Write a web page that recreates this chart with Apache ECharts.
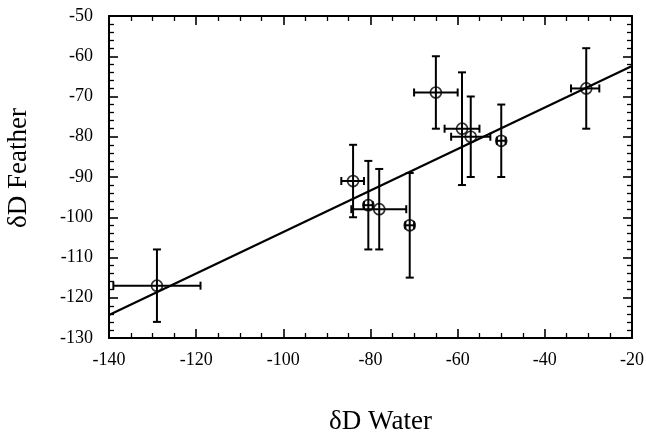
<!DOCTYPE html>
<html><head><meta charset="utf-8">
<script src="https://cdn.jsdelivr.net/npm/echarts@6/dist/echarts.min.js"></script>
<style>html,body{margin:0;padding:0;background:#fff}#c{width:646px;height:436px}</style>
</head><body><div id="c"></div>
<script>
// δD Water (x) and δD Feather (y) for each sample
const waterD   = [-129, -84, -80.5, -78, -71, -65, -59, -57, -50, -30.5];
const featherD = [-117, -91, -97, -98, -102, -69, -78, -80, -81, -68];
// horizontal error bar ends (water)
const waterLow  = [-139, -86.7, -81.5, -84.4, -72, -70, -63, -61.5, -51, -34];
const waterHigh = [-119, -81.5, -79.5, -71.8, -70, -60, -55, -52.5, -49, -27.5];
// vertical error bar ends (feather)
const featherLow  = [-126, -100, -108, -108, -115, -78, -92, -90, -90, -78];
const featherHigh = [-108, -82, -86, -88, -89, -60, -64, -70, -72, -58];
// regression line end points
const fitX = [-140, -20];
const fitY = [-124.3, -62.4];

const errData = waterD.map((x, i) => [x, featherD[i], waterLow[i], waterHigh[i], featherLow[i], featherHigh[i]]);
const ptData = waterD.map((x, i) => [x, featherD[i]]);
const fitData = fitX.map((x, i) => [x, fitY[i]]);

const FONT = 'Liberation Serif';
const axisCommon = {
  axisLine: {show: true, lineStyle: {color: '#000', width: 2}},
  axisTick: {show: true, inside: true, length: 9, lineStyle: {color: '#000', width: 1.6}},
  minorTick: {show: true, length: 5, lineStyle: {color: '#000', width: 1.3}},
  splitLine: {show: false}
};

const chart = echarts.init(document.getElementById('c'), null, {renderer: 'canvas'});
chart.setOption({
  animation: false,
  backgroundColor: '#fff',
  grid: {left: 109, right: 14, top: 16, bottom: 98, containLabel: false, outerBoundsMode: 'none'},
  xAxis: [
    Object.assign({}, axisCommon, {
      type: 'value', min: -140, max: -20, interval: 20, position: 'bottom',
      minorTick: Object.assign({}, axisCommon.minorTick, {splitNumber: 4}),
      axisLabel: {color: '#000', fontFamily: FONT, fontSize: 18, margin: 13},
      name: 'δD Water', nameLocation: 'middle', nameGap: 70,
      nameTextStyle: {color: '#000', fontFamily: FONT, fontSize: 27, padding: [0, 0, 0, 20]}
    }),
    Object.assign({}, axisCommon, {
      type: 'value', min: -140, max: -20, interval: 20, position: 'top',
      minorTick: Object.assign({}, axisCommon.minorTick, {splitNumber: 4}),
      axisLabel: {show: false}
    })
  ],
  yAxis: [
    Object.assign({}, axisCommon, {
      type: 'value', min: -130, max: -50, interval: 10, position: 'left',
      minorTick: Object.assign({}, axisCommon.minorTick, {splitNumber: 5}),
      axisLabel: {color: '#000', fontFamily: FONT, fontSize: 18, margin: 16},
      name: 'δD Feather', nameLocation: 'middle', nameGap: 77,
      nameTextStyle: {color: '#000', fontFamily: FONT, fontSize: 27, padding: [0, 0, 0, 18]}
    }),
    Object.assign({}, axisCommon, {
      type: 'value', min: -130, max: -50, interval: 10, position: 'right',
      minorTick: Object.assign({}, axisCommon.minorTick, {splitNumber: 5}),
      axisLabel: {show: false}
    })
  ],
  series: [
    {
      type: 'line', data: fitData, symbol: 'none', silent: true,
      lineStyle: {color: '#000', width: 2.2}, z: 2
    },
    {
      type: 'scatter', data: ptData, symbol: 'circle', symbolSize: 11,
      itemStyle: {color: 'rgba(0,0,0,0)', borderColor: '#000', borderWidth: 1.7}, z: 3
    },
    {
      type: 'custom', data: errData, z: 4, clip: false,
      renderItem: function (params, api) {
        const x = api.value(0), y = api.value(1);
        const pl = api.coord([api.value(2), y]);
        const ph = api.coord([api.value(3), y]);
        const vl = api.coord([x, api.value(4)]);
        const vh = api.coord([x, api.value(5)]);
        const cap = 4;
        const style = {stroke: '#000', lineWidth: 2};
        const L = (x1, y1, x2, y2) => ({type: 'line', shape: {x1, y1, x2, y2}, style});
        return {type: 'group', children: [
          L(vl[0], vl[1], vh[0], vh[1]),
          L(vl[0] - cap, vl[1], vl[0] + cap, vl[1]),
          L(vh[0] - cap, vh[1], vh[0] + cap, vh[1]),
          L(pl[0], pl[1], ph[0], ph[1]),
          L(pl[0], pl[1] - cap, pl[0], pl[1] + cap),
          L(ph[0], ph[1] - cap, ph[0], ph[1] + cap)
        ]};
      }
    }
  ]
});
</script>
</body></html>
